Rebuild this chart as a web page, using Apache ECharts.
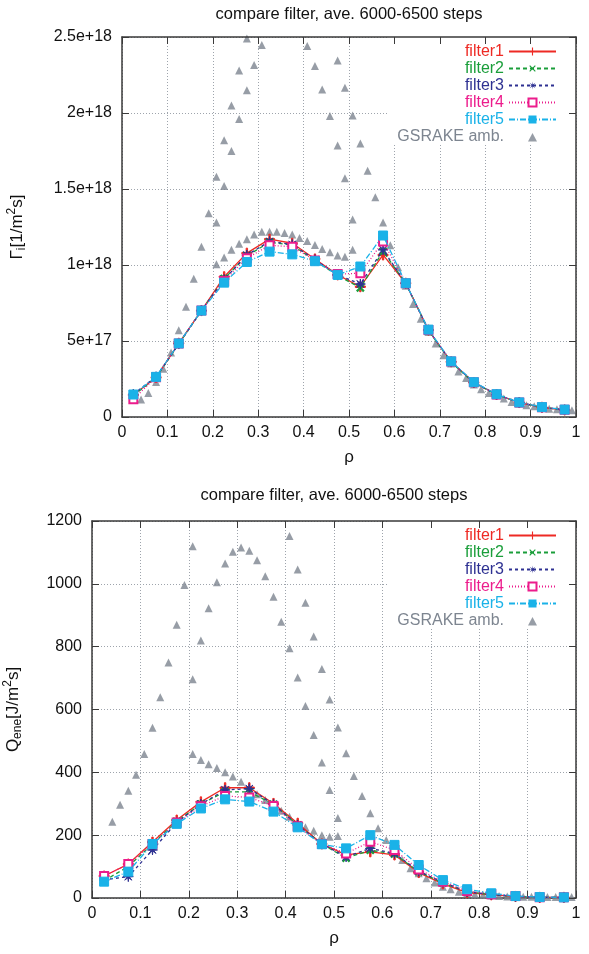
<!DOCTYPE html>
<html>
<head>
<meta charset="utf-8">
<script src="https://cdn.jsdelivr.net/npm/echarts@6/dist/echarts.min.js"></script>
<style>
html,body{margin:0;padding:0;background:#fff}
#chart{width:589px;height:954px}
</style>
</head>
<body>
<div id="chart"></div>
<script>
// rho grid of the filter runs
const rho = [0.025,0.075,0.125,0.175,0.225,0.275,0.325,0.375,0.425,0.475,
             0.525,0.575,0.625,0.675,0.725,0.775,0.825,0.875,0.925,0.975];

// top panel: Gamma_i, in units of 1e18
const gamFilter1 = [0.145,0.26,0.485,0.70,0.923,1.078,1.17,1.143,1.04,0.935,0.857,1.066,0.88,0.572,0.363,0.227,0.148,0.095,0.064,0.046];
const gamFilter2 = [0.14,0.26,0.48,0.70,0.91,1.06,1.15,1.13,1.03,0.93,0.85,1.09,0.88,0.57,0.36,0.225,0.147,0.094,0.063,0.046];
const gamFilter3 = [0.15,0.265,0.48,0.70,0.905,1.065,1.155,1.135,1.035,0.935,0.875,1.10,0.88,0.572,0.363,0.227,0.148,0.095,0.064,0.047];
const gamFilter4 = [0.117,0.262,0.484,0.70,0.895,1.045,1.13,1.12,1.03,0.94,0.946,1.154,0.88,0.572,0.365,0.228,0.148,0.095,0.064,0.048];
const gamFilter5 = [0.148,0.264,0.484,0.70,0.884,1.02,1.088,1.07,1.025,0.935,0.99,1.194,0.88,0.575,0.366,0.229,0.15,0.096,0.065,0.049];

const gamGsRho = [
  0.042,0.058,0.075,0.091,0.108,0.125,0.141,0.158,0.175,0.191,0.208,0.225,0.241,0.258,0.275,
  0.208,0.225,0.241,0.258,0.275,0.291,0.308,
  0.208,0.225,0.241,0.258,0.275,0.291,0.308,0.325,0.341,0.358,0.375,0.391,0.408,0.425,0.441,0.458,0.475,0.491,0.508,
  0.408,0.425,0.441,0.458,0.475,0.491,0.508,
  0.475,0.491,0.508,0.525,0.541,0.558,0.575,0.591,0.608,0.625,0.641,0.658,0.675,0.691,0.708,0.725,0.741,
  0.758,0.775,0.791,0.808,0.825,0.841,0.858,0.875,0.891,0.908,0.925,0.941,0.958,0.975,0.991];
const gamGsVal = [
  0.115,0.158,0.231,0.317,0.425,0.57,0.726,0.91,1.12,1.34,1.58,1.82,2.05,2.28,2.49,
  1.28,1.52,1.75,1.96,2.15,2.315,2.447,
  1.005,1.05,1.10,1.14,1.17,1.20,1.218,1.218,1.218,1.21,1.20,1.178,1.158,1.132,1.106,1.084,1.062,1.055,1.10,
  2.44,2.31,2.155,1.98,1.786,1.57,1.30,
  2.346,2.166,1.983,1.80,1.62,1.445,1.28,1.13,0.985,0.864,0.743,0.646,0.56,0.484,0.407,0.352,0.30,
  0.257,0.214,0.183,0.158,0.143,0.121,0.099,0.088,0.077,0.07,0.062,0.055,0.051,0.049,0.044];

// bottom panel: Q_ene [J/m^2 s]
const qFilter1 = [70,108,178,248,306,351,351,301,238,172,137,147,137,81,45,17,10,5,2,2];
const qFilter2 = [55,100,172,244,299,338,338,298,232,172,127,152,140,84,48,20,11,5,2,2];
const qFilter3 = [58,68,153,240,299,344,348,298,232,172,131,158,142,85,50,20,11,5,2,2];
const qFilter4 = [70,108,172,240,292,325,320,293,228,172,142,179,153,91,52,22,12,6,2,2];
const qFilter5 = [52,84,172,236,285,314,307,275,225,171,158,200,169,105,57,28,15,6,3,2];

const qGsRho = [
  0.042,0.058,0.075,0.091,0.108,0.125,0.141,0.158,0.175,0.191,0.208,
  0.208,0.225,0.241,0.258,0.275,0.291,0.308,0.325,0.341,0.358,0.375,0.391,0.408,0.425,0.441,0.458,0.475,0.491,0.508,
  0.408,0.425,0.441,0.458,0.475,0.491,0.508,0.525,0.541,0.558,0.575,0.591,0.608,0.625,0.641,0.658,0.675,0.691,
  0.708,0.725,0.741,0.758,0.775,0.791,0.808,0.825,0.841,0.858,0.875,0.891,0.908,0.925,0.941,0.958,0.975,0.991,
  0.208,0.225,0.241,0.258,0.275,0.291,0.308,0.325,0.341,0.358,0.375,0.391,0.408,0.425,0.441,0.458,0.475,0.491,0.508];
const qGsVal = [
  243,297,341,392,458,542,639,750,870,996,1120,
  696,820,922,1005,1065,1102,1116,1105,1075,1024,959,879,795,702,611,519,431,344,255,
  1152,1046,940,832,729,632,543,461,388,325,270,222,185,153,121,95,79,63,
  49,36,28,20,15,12,10,8,6,5,5,4,4,3,3,3,3,3,
  458,439,426,414,400,387,370,350,330,312,296,278,259,243,225,214,200,195,197];

const names = ['filter1','filter2','filter3','filter4','filter5','GSRAKE amb.'];
const colors = ['#ee2a24','#1a9e3a','#2e3192','#ec1c8c','#1ab2e8','#7d8590'];
const E18 = 1e18;
const FONT = '"Liberation Sans", Arial, Helvetica, sans-serif';

function starPath(n, ro, ri) {
  let d = '';
  for (let k = 0; k < 2 * n; k++) {
    const r = k % 2 ? ri : ro;
    const a = Math.PI * k / n - Math.PI / 2;
    d += (k ? 'L' : 'M') + (5 + r * Math.cos(a)).toFixed(2) + ',' + (5 + r * Math.sin(a)).toFixed(2);
  }
  return 'path://' + d + 'Z';
}
const plusPath = 'path://M4.3,0H5.7V4.3H10V5.7H5.7V10H4.3V5.7H0V4.3H4.3Z';
// small triangle centred in a 47x10 legend box (corner points only set the box)
const legendTriangle = 'path://M0,0L0,0ZM47,10L47,10ZM19,10L23.5,1.5L28,10Z';
const marks = [
  {symbol: plusPath, size: 10, rotate: 0, dash: 'solid'},
  {symbol: plusPath, size: 9, rotate: 45, dash: [4, 3]},
  {symbol: starPath(8, 5, 1.2), size: 10, rotate: 0, dash: [3, 3]},
  {symbol: 'emptyRect', size: 8, rotate: 0, dash: [1, 2]},
  {symbol: 'rect', size: 9, rotate: 0, dash: [6, 2, 1, 2]}
];

function lineSeries(k, g, vals, scale) {
  return {
    type: 'line', name: names[k], xAxisIndex: g * 2, yAxisIndex: g * 2,
    data: rho.map((r, i) => [r, vals[i] * scale]),
    symbol: marks[k].symbol, symbolSize: marks[k].size, symbolRotate: marks[k].rotate,
    lineStyle: {color: colors[k], width: 1.3, type: marks[k].dash},
    itemStyle: {color: colors[k], borderColor: colors[k]},
    emphasis: {disabled: true}, animation: false, z: 3 + k
  };
}
function gsSeries(g, xs, ys, scale) {
  return {
    type: 'scatter', name: names[5], xAxisIndex: g * 2, yAxisIndex: g * 2,
    data: xs.map((r, i) => [r, ys[i] * scale]),
    symbol: 'triangle', symbolSize: 8,
    itemStyle: {color: colors[5]}, emphasis: {disabled: true}, animation: false, z: 2
  };
}

const axisLineStyle = {color: '#3a3a3a', width: 1.5};
function xAxes(g) {
  return [
    {gridIndex: g, type: 'value', min: 0, max: 1, interval: 0.1, position: 'bottom', z: 0,
     axisLine: {show: true, onZero: false, lineStyle: axisLineStyle},
     axisTick: {show: true, inside: true, length: 7, lineStyle: {color: '#3a3a3a'}},
     axisLabel: {color: '#111', fontSize: 16, fontFamily: FONT, margin: 8},
     splitLine: {show: true, lineStyle: {color: '#9ea4ac', type: [1, 2], width: 1}},
     name: 'ρ', nameLocation: 'middle', nameGap: 32,
     nameTextStyle: {color: '#111', fontSize: 17, fontFamily: FONT}},
    {gridIndex: g, type: 'value', min: 0, max: 1, interval: 0.1, position: 'top', z: 6,
     axisLine: {show: true, onZero: false, lineStyle: axisLineStyle},
     axisTick: {show: true, inside: true, length: 7, lineStyle: {color: '#3a3a3a'}},
     axisLabel: {show: false}, splitLine: {show: false}}
  ];
}
function yAxes(g, max, interval, fmt, name, gap) {
  return [
    {gridIndex: g, type: 'value', min: 0, max: max, interval: interval, position: 'left', z: 0,
     axisLine: {show: true, onZero: false, lineStyle: axisLineStyle},
     axisTick: {show: true, inside: true, length: 7, lineStyle: {color: '#3a3a3a'}},
     axisLabel: {color: '#111', fontSize: 16, fontFamily: FONT, margin: 10, formatter: fmt},
     splitLine: {show: true, lineStyle: {color: '#9ea4ac', type: [1, 2], width: 1}},
     name: name, nameLocation: 'middle', nameRotate: 90, nameGap: gap,
     nameTextStyle: {color: '#111', fontFamily: FONT,
       rich: {
         b: {fontSize: 17, fontFamily: FONT, color: '#111', lineHeight: 22},
         s: {fontSize: 12, fontFamily: FONT, color: '#111', verticalAlign: 'bottom', lineHeight: 22},
         p: {fontSize: 12, fontFamily: FONT, color: '#111', verticalAlign: 'top', lineHeight: 22}
       }}},
    {gridIndex: g, type: 'value', min: 0, max: max, interval: interval, position: 'right', z: 6,
     axisLine: {show: true, onZero: false, lineStyle: axisLineStyle},
     axisTick: {show: true, inside: true, length: 7, lineStyle: {color: '#3a3a3a'}},
     axisLabel: {show: false}, splitLine: {show: false}}
  ];
}
function legendFor(top) {
  return {
    orient: 'vertical', align: 'right', right: 14, top: top,
    padding: [6, 18, 0, 10], backgroundColor: '#fff',
    itemWidth: 47, itemHeight: 10, itemGap: 0, selectedMode: false, z: 4,
    textStyle: {fontSize: 16, fontFamily: FONT, lineHeight: 17},
    data: names.map((n, k) => k === 5
      ? {name: n, icon: legendTriangle, textStyle: {color: colors[k]}}
      : {name: n, textStyle: {color: colors[k]}})
  };
}

const gamFmt = v => v === 0 ? '0' : Number(v.toPrecision(3)).toExponential();
const qFmt = v => String(v);
const titleText = 'compare filter, ave. 6000-6500 steps';

const chart = echarts.init(document.getElementById('chart'), null, {renderer: 'canvas'});
chart.setOption({
  backgroundColor: '#fff',
  animation: false,
  graphic: [
    {type: 'text', x: 349, y: 14, style: {text: titleText, align: 'center', verticalAlign: 'middle', fontSize: 16.5, fontFamily: FONT, fill: '#111'}},
    {type: 'text', x: 334, y: 495, style: {text: titleText, align: 'center', verticalAlign: 'middle', fontSize: 16.5, fontFamily: FONT, fill: '#111'}}
  ],
  grid: [
    {left: 122, right: 13, top: 37, height: 380, outerBoundsMode: 'none'},
    {left: 92, right: 13, top: 521, height: 377, outerBoundsMode: 'none'}
  ],
  legend: [legendFor(37), legendFor(521)],
  xAxis: xAxes(0).concat(xAxes(1)),
  yAxis: yAxes(0, 2.5 * E18, 0.5 * E18, gamFmt, '{b|Γ}{s|i}{b|[1/m}{p|2}{b|s]}', 94)
    .concat(yAxes(1, 1200, 200, qFmt, '{b|Q}{s|ene}{b|[J/m}{p|2}{b|s]}', 68)),
  series: [
    gsSeries(0, gamGsRho, gamGsVal, E18),
    lineSeries(0, 0, gamFilter1, E18),
    lineSeries(1, 0, gamFilter2, E18),
    lineSeries(2, 0, gamFilter3, E18),
    lineSeries(3, 0, gamFilter4, E18),
    lineSeries(4, 0, gamFilter5, E18),
    gsSeries(1, qGsRho, qGsVal, 1),
    lineSeries(0, 1, qFilter1, 1),
    lineSeries(1, 1, qFilter2, 1),
    lineSeries(2, 1, qFilter3, 1),
    lineSeries(3, 1, qFilter4, 1),
    lineSeries(4, 1, qFilter5, 1)
  ]
});
</script>
</body>
</html>
